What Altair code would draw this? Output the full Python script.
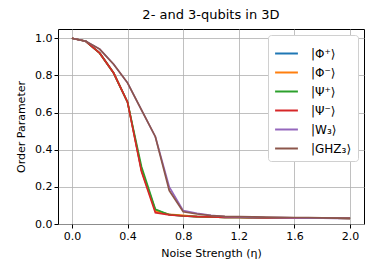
import altair as alt
import pandas as pd

eta = [round(0.1 * i, 1) for i in range(21)]
tail = [0.040, 0.038, 0.036, 0.035, 0.034, 0.033, 0.033, 0.032, 0.032, 0.031, 0.031, 0.030, 0.030]
phi_plus = [1.0, 0.984, 0.92, 0.813, 0.656, 0.29, 0.075, 0.050, 0.044] + tail
phi_minus = [1.0, 0.984, 0.92, 0.813, 0.656, 0.29, 0.070, 0.052, 0.046] + tail
psi_plus = [1.0, 0.984, 0.92, 0.813, 0.656, 0.31, 0.079, 0.050, 0.043] + tail
psi_minus = [1.0, 0.984, 0.92, 0.813, 0.656, 0.282, 0.061, 0.049, 0.043] + tail
w3 = [1.0, 0.984, 0.942, 0.86, 0.76, 0.615, 0.47, 0.20, 0.072, 0.058, 0.047,
      0.040, 0.038, 0.036, 0.035, 0.034, 0.033, 0.032, 0.031, 0.030, 0.030]
ghz3 = [1.0, 0.984, 0.942, 0.86, 0.76, 0.615, 0.47, 0.18, 0.066, 0.054, 0.045,
        0.041, 0.040, 0.038, 0.037, 0.036, 0.035, 0.034, 0.033, 0.032, 0.031]

names = ["|Φ⁺⟩", "|Φ⁻⟩", "|Ψ⁺⟩", "|Ψ⁻⟩", "|W₃⟩", "|GHZ₃⟩"]
series = [phi_plus, phi_minus, psi_plus, psi_minus, w3, ghz3]
colors = ["#1f77b4", "#ff7f0e", "#2ca02c", "#d62728", "#9467bd", "#8c564b"]

rows = []
for k, (n, s) in enumerate(zip(names, series)):
    for x, y in zip(eta, s):
        rows.append({"eta": x, "value": y, "state": n, "k": k})
df = pd.DataFrame(rows)

chart = alt.Chart(df).mark_line(strokeWidth=1.7).encode(
    x=alt.X("eta:Q", scale=alt.Scale(domain=[-0.1, 2.1], nice=False, zero=False),
            axis=alt.Axis(values=[0.0, 0.4, 0.8, 1.2, 1.6, 2.0], format=".1f",
                          title="Noise Strength (η)", titlePadding=6)),
    y=alt.Y("value:Q", scale=alt.Scale(domain=[0, 1.05], nice=False),
            axis=alt.Axis(values=[0.0, 0.2, 0.4, 0.6, 0.8, 1.0], format=".1f",
                          title="Order Parameter", titlePadding=8)),
    color=alt.Color("state:N", scale=alt.Scale(domain=names, range=colors),
                    legend=alt.Legend(title=None, orient="top-right", offset=6,
                                      fillColor="white", strokeColor="#d0d0d0",
                                      padding=6, cornerRadius=3, symbolType="stroke",
                                      symbolSize=520, symbolStrokeWidth=2,
                                      labelFontSize=12, labelFont="DejaVu Sans",
                                      labelOffset=12, rowPadding=0)),
    order=alt.Order("k:Q"),
    detail="k:N",
).properties(
    width=306, height=195,
    title=alt.TitleParams("2- and 3-qubits in 3D", fontSize=13, fontWeight="normal",
                          font="DejaVu Sans", anchor="middle", offset=7),
    autosize=alt.AutoSizeParams(type="none"),
    padding={"left": 50, "top": 21, "right": 2, "bottom": 40},
).configure_view(
    stroke="black", strokeWidth=1
).configure_axis(
    labelFont="DejaVu Sans", titleFont="DejaVu Sans", labelFontSize=11, titleFontSize=11,
    titleFontWeight="normal", labelColor="black", titleColor="black",
    grid=True, gridColor="#b0b0b0", gridWidth=0.8, domain=False,
    tickColor="black", tickSize=4, labelPadding=2
)

chart.save("out.html", embed_options={"renderer": "svg", "actions": False})
